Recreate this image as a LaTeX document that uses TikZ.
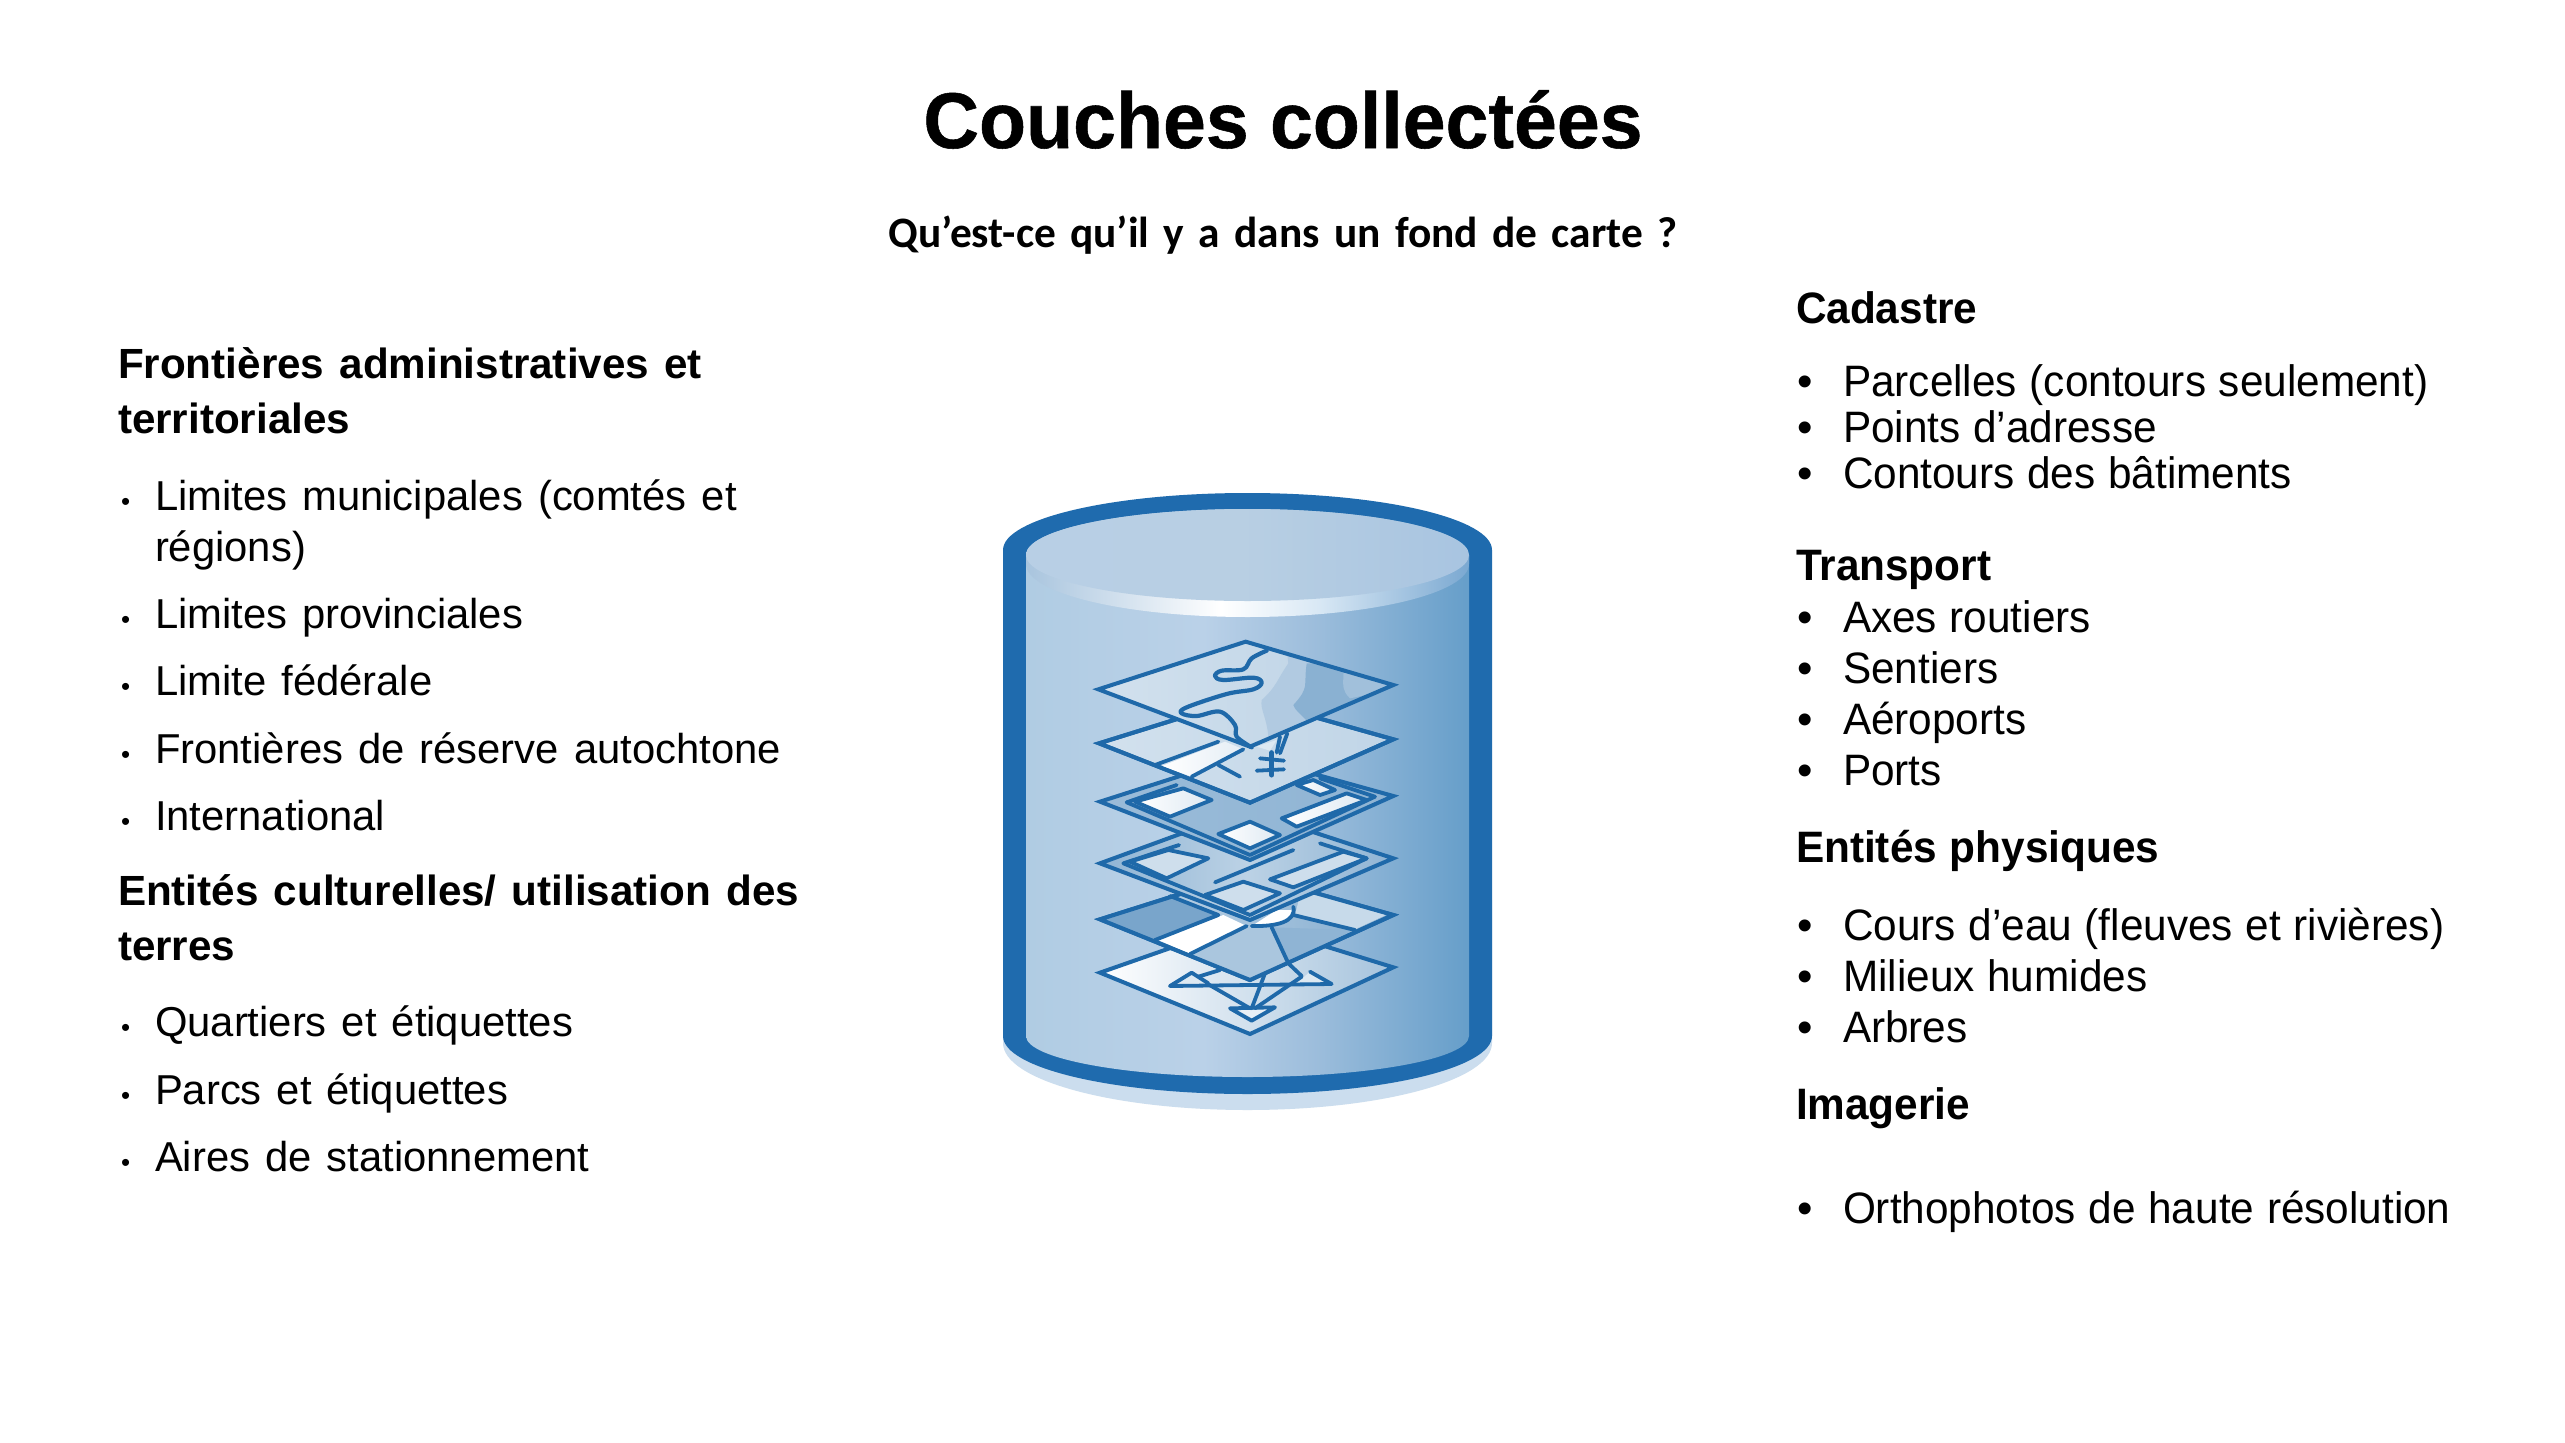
\documentclass[tikz,border=0pt]{standalone}
\usepackage{fontspec}
\setmainfont{Liberation Sans}
\newfontfamily\carl{Carlito}
\newfontfamily\tf[BoldFeatures={FakeBold=0.7}]{Liberation Sans}
\definecolor{lyr}{HTML}{1F69A9}
\definecolor{rimc}{HTML}{1F6BAE}
\definecolor{shad}{HTML}{CBDDEE}
\pgfdeclarehorizontalshading{bodysh}{100bp}{rgb(0bp)=(0.69,0.80,0.89);rgb(25bp)=(0.69,0.80,0.89);rgb(45bp)=(0.73,0.82,0.91);rgb(58bp)=(0.61,0.74,0.86);rgb(75bp)=(0.40,0.62,0.79);rgb(100bp)=(0.40,0.62,0.79)}
\pgfdeclarehorizontalshading{rimsh}{100bp}{rgb(0bp)=(0.66,0.77,0.87);rgb(25bp)=(0.66,0.77,0.87);rgb(47bp)=(1,1,1);rgb(58bp)=(0.85,0.91,0.96);rgb(75bp)=(0.48,0.66,0.82);rgb(100bp)=(0.48,0.66,0.82)}
\pgfdeclarehorizontalshading{lidsh}{100bp}{rgb(0bp)=(0.72,0.81,0.90);rgb(25bp)=(0.72,0.81,0.90);rgb(50bp)=(0.72,0.81,0.89);rgb(75bp)=(0.66,0.77,0.88);rgb(100bp)=(0.66,0.77,0.88)}
\newcommand{\fl}{\fontsize{41.8}{43}\selectfont\spaceskip=0.36em\relax}
\newcommand{\fh}{\fontsize{42.2}{43}\selectfont\spaceskip=0.36em\relax}
\newcommand{\fr}{\fontsize{44}{44}\selectfont\spaceskip=0.3em\relax}
\tikzset{
 x=1pt,y=-1pt,
 txt/.style={inner sep=0pt,outer sep=0pt,anchor=base west},
 hl/.style={txt,font=\fh\bfseries},
 il/.style={txt,font=\fl},
 hr/.style={txt,font=\fr\bfseries},
 ir/.style={txt,font=\fr},
 lay/.style={draw=lyr,line width=4pt,line join=miter,miter limit=4},
 lin/.style={draw=lyr,line width=3.8pt,line cap=round,line join=round},
 zt/.style={x=0.33333pt,y=-0.33333pt,xshift=1080pt,yshift=-630pt},
 zb/.style={x=0.33333pt,y=-0.33333pt,xshift=1080pt,yshift=-850pt},
}
\newcommand{\bl}{\makebox[37pt][l]{\hspace{3pt}\scalebox{.62}{•}}}
\newcommand{\br}{\makebox[47pt][l]{\hspace{1pt}•}}
\newcommand{\rs}[1]{\scalebox{.962}[1]{#1}}
\begin{document}
\begin{tikzpicture}
\useasboundingbox (0,0) rectangle (2565,1443);
\fill[white] (0,0) rectangle (2565,1443);

% cylinder
\fill[shad] (1003,1043) arc[start angle=180,end angle=360,x radius=244.5pt,y radius=67pt] -- (1492,900) -- (1003,900) -- cycle;
\fill[rimc] (1003,550) arc[start angle=180,end angle=0,x radius=244.5pt,y radius=57pt] -- (1492,1036) arc[start angle=0,end angle=-180,x radius=244.5pt,y radius=58pt] -- cycle;
\path[shading=bodysh] (1026,555) arc[start angle=180,end angle=0,x radius=221.5pt,y radius=46pt] -- (1469,1036) arc[start angle=0,end angle=-180,x radius=221.5pt,y radius=41pt] -- cycle;
\path[shading=rimsh] (1026,564) arc[start angle=180,end angle=360,x radius=221.5pt,y radius=53pt] -- (1469,555) -- (1026,555) -- cycle;
\path[shading=lidsh] (1247.5,555) ellipse[x radius=221.5pt,y radius=46pt];

% layer 6
\begin{scope}[zb]
\shade[lay,left color=white,right color=lyr!40!white] (60,368) -- (497,215) -- (940,352) -- (510,552) -- cycle;
\fill[white!85!lyr] (270,408) -- (335,368) -- (380,400) -- cycle;
\fill[white!85!lyr] (755,402) -- (690,365) -- (650,400) -- cycle;
\fill[white!90!lyr] (450,475) -- (585,472) -- (515,512) -- cycle;
\draw[lin] (270,408) -- (335,368) -- (385,400);
\draw[lin] (270,408) -- (755,402) -- (690,365);
\draw[lin] (450,475) -- (585,472) -- (515,512) -- cycle;
\draw[lin] (380,400) -- (510,475);
\draw[lin] (555,370) -- (515,475);
\draw[lin] (665,380) -- (525,475);
\draw[lin] (355,380) -- (420,360);
\end{scope}
% layer 5
\begin{scope}[zb]
\shade[lay,left color=lyr!25!white,right color=lyr!55!white] (60,208) -- (497,70) -- (940,195) -- (510,390) -- cycle;
\fill[lyr!60!white] (70,208) -- (270,138) -- (415,195) -- (225,270) -- cycle;
\fill[white!75!lyr] (660,135) -- (725,135) -- (918,195) -- (825,238) -- (645,195) -- cycle;
\fill[lyr!38!white] (340,315) -- (500,228) -- (575,232) -- (625,340) -- (510,388) -- cycle;
\fill[lyr!50!white] (575,232) -- (825,240) -- (625,335) -- cycle;
\fill[white] (235,270) -- (330,312) -- (500,228) -- (430,195) -- cycle;
\fill[white] (520,225) .. controls (590,225) and (640,215) .. (640,180) -- (590,180) -- cycle;
\draw[lin] (225,270) -- (415,195);
\draw[lin] (330,312) -- (500,228);
\draw[lin] (515,228) .. controls (590,230) and (650,215) .. (640,170);
\draw[lin] (640,195) -- (825,240);
\draw[lin] (575,232) -- (625,340) -- (665,378);
\draw[lin] (270,138) -- (415,195);
\draw[lay] (60,208) -- (497,70) -- (940,195) -- (510,390) -- cycle;
\end{scope}
% layer 4
\begin{scope}[zb]
\shade[lay,left color=lyr!50!white,right color=lyr!50!white,middle color=lyr!30!white] (60,40) -- (497,-120) -- (940,25) -- (510,210) -- cycle;
\draw[lin] (130,40) -- (297,-15);
\draw[lin] (130,40) -- (510,195) -- (860,25) -- (720,-20);
\path[lin,fill=lyr!22!white] (150,35) -- (265,0) -- (385,25) -- (260,85) -- cycle;
\path[lin,fill=lyr!22!white] (375,135) -- (490,95) -- (600,130) -- (490,180) -- cycle;
\path[lin,fill=lyr!22!white] (570,88) -- (790,5) -- (860,25) -- (640,112) -- cycle;
\draw[lin] (405,97) -- (640,0);
\end{scope}
% layer 3
\begin{scope}[zt]
\shade[lay,left color=lyr!45!white,right color=lyr!50!white] (60,515) -- (497,375) -- (940,498) -- (510,690) -- cycle;
\draw[lin] (140,517) -- (290,465);
\draw[lin] (140,517) -- (510,675) -- (885,500) -- (720,445);
\shade[lin,left color=white,right color=lyr!15!white] (165,515) -- (310,475) -- (395,510) -- (270,560) -- cycle;
\shade[lin,left color=white,right color=lyr!15!white] (415,612) -- (510,575) -- (600,615) -- (510,655) -- cycle;
\shade[lin,left color=white,right color=lyr!15!white] (605,565) -- (800,490) -- (860,510) -- (650,590) -- cycle;
\shade[lin,left color=white,right color=lyr!15!white] (650,465) -- (700,450) -- (765,480) -- (720,495) -- cycle;
\end{scope}
% layer 2
\begin{scope}[zt]
\shade[lay,left color=lyr!20!white,right color=lyr!28!white] (57,340) -- (497,203) -- (940,328) -- (510,518) -- cycle;
\shade[left color=white,right color=lyr!12!white] (245,408) -- (335,440) -- (490,358) -- (435,335) -- cycle;
\fill[white!85!lyr] (530,350) -- (590,330) -- (570,362) -- cycle;
\draw[lin] (225,405) -- (415,335);
\draw[lin] (335,440) -- (490,358);
\draw[lin] (415,405) -- (480,440);
\draw[lin] (600,320) -- (590,368);
\draw[lin] (622,310) -- (600,370);
\draw[lin,line width=5pt] (575,368) -- (575,435);
\draw[lin] (540,385) -- (612,392);
\draw[lin] (530,422) -- (612,418);
\draw[lay] (57,340) -- (497,203) -- (940,328) -- (510,518) -- cycle;
\end{scope}
% layer 1
\begin{scope}[zt]
\shade[left color=white!80!lyr,right color=lyr!30!white] (55,178) -- (497,35) -- (940,165) -- (510,350) -- cycle;
\begin{scope}
\clip (55,178) -- (497,35) -- (940,165) -- (510,350) -- cycle;
\fill[lyr!35!white] (620,60) -- (625,100) .. controls (590,150) and (590,170) .. (545,210) .. controls (540,240) and (560,260) .. (565,320) -- (700,320) -- (1000,165) -- cycle;
\fill[lyr!52!white] (680,100) .. controls (670,170) and (690,170) .. (640,225) .. controls (650,255) and (690,260) .. (700,320) -- (1000,165) -- (850,100) -- cycle;
\fill[lyr!42!white] (790,130) .. controls (790,170) and (785,180) .. (810,205) -- (1000,165) -- (850,120) -- cycle;
\end{scope}
\draw[lay] (55,178) -- (497,35) -- (940,165) -- (510,350) -- cycle;
\draw[lin,line width=4.2pt] plot[smooth,tension=0.6] coordinates {(560,62) (515,85) (490,118) (425,122) (405,138) (430,150) (520,143) (545,158) (520,178) (440,192) (320,232) (305,250) (350,258) (420,245) (465,285) (470,320) (515,352)};
\end{scope}

% title
\node[anchor=base,inner sep=0pt] (title) at (1283,148) {\tf\fontsize{79}{79}\selectfont\bfseries\scalebox{.975}[1]{Couches collectées}};
\node[anchor=base,inner sep=0pt] (sub) at (1283,247) {\carl\fontsize{43.4}{44}\selectfont\bfseries\spaceskip=0.33em\relax Qu’est-ce qu’il y a dans un fond de carte ?};

% left column
\node[hl] (a1) at (118,378) {Frontières administratives et};
\node[hl] (a2) at (118,433) {territoriales};
\node[il] (b1) at (118,510) {\bl Limites municipales (comtés et};
\node[il] (b2) at (155,561) {régions)};
\node[il] (b3) at (118,628) {\bl Limites provinciales};
\node[il] (b4) at (118,695) {\bl Limite fédérale};
\node[il] (b5) at (118,763) {\bl Frontières de réserve autochtone};
\node[il] (b6) at (118,830) {\bl International};
\node[hl] (c1) at (118,905) {Entités culturelles/ utilisation des};
\node[hl] (c2) at (118,960) {terres};
\node[il] (d1) at (118,1036) {\bl Quartiers et étiquettes};
\node[il] (d2) at (118,1104) {\bl Parcs et étiquettes};
\node[il] (d3) at (118,1171) {\bl Aires de stationnement};

% right column
\node[hr] (e0) at (1796,323) {\rs{Cadastre}};
\node[ir] (e1) at (1796,396) {\br\rs{Parcelles (contours seulement)}};
\node[ir] (e2) at (1796,442) {\br\rs{Points d’adresse}};
\node[ir] (e3) at (1796,488) {\br\rs{Contours des bâtiments}};
\node[hr] (f0) at (1796,580) {\rs{Transport}};
\node[ir] (f1) at (1796,632) {\br\rs{Axes routiers}};
\node[ir] (f2) at (1796,683) {\br\rs{Sentiers}};
\node[ir] (f3) at (1796,734) {\br\rs{Aéroports}};
\node[ir] (f4) at (1796,785) {\br\rs{Ports}};
\node[hr] (g0) at (1796,862) {\rs{Entités physiques}};
\node[ir] (g1) at (1796,940) {\br\rs{Cours d’eau (fleuves et rivières)}};
\node[ir] (g2) at (1796,991) {\br\rs{Milieux humides}};
\node[ir] (g3) at (1796,1042) {\br\rs{Arbres}};
\node[hr] (h0) at (1796,1119) {\rs{Imagerie}};
\node[ir] (h1) at (1796,1223) {\br\rs{Orthophotos de haute résolution}};
\end{tikzpicture}
\end{document}
